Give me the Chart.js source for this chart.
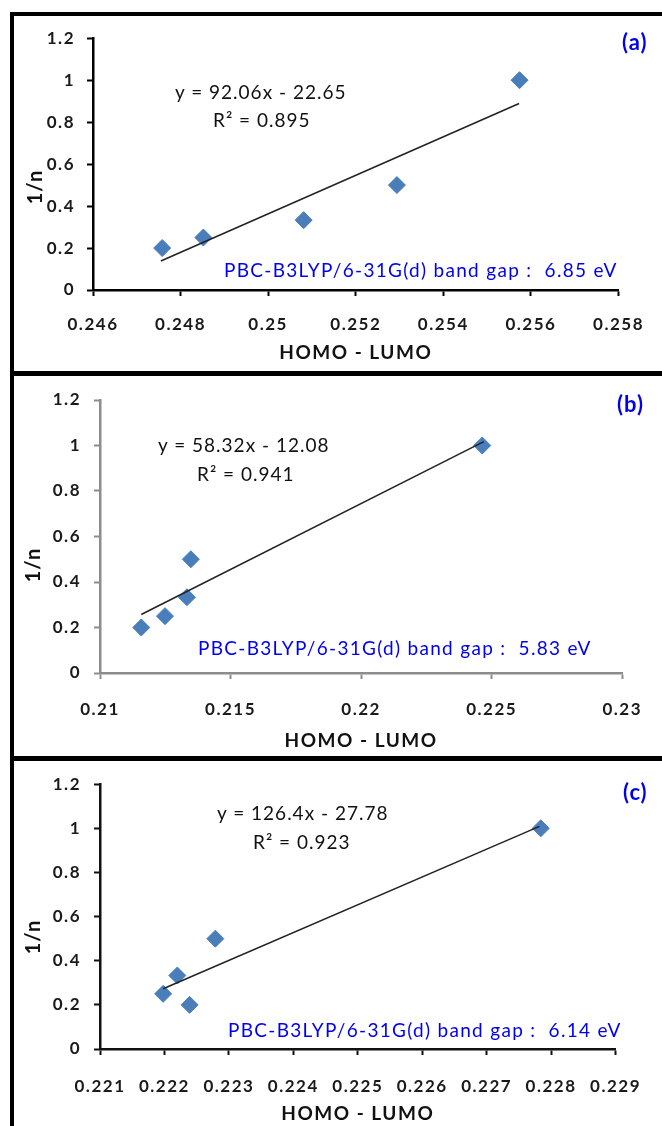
<!DOCTYPE html>
<html>
<head>
<meta charset="utf-8">
<script src="https://cdn.jsdelivr.net/npm/chart.js@4.4.1/dist/chart.umd.min.js"></script>
<style>
    body { margin: 0; background: #fff; }
    #page { position: relative; width: 662px; height: 1126px; overflow: hidden; font-family: Lato, "Open Sans", sans-serif; }
    canvas { position: absolute; left: 0; }
    .frame { position: absolute; background: #000; z-index: 2; }
    .note { position: absolute; white-space: pre; line-height: 24px; z-index: 3; }
    .eq { font-size: 19px; color: #111; letter-spacing: 1px; }
    .gap { font-size: 19px; color: #0000ee; letter-spacing: 1.3px; }
    .tag { font-size: 22px; font-weight: bold; color: #0000ee; letter-spacing: 1px; }
    .ytitle { position: absolute; font-size: 20px; font-weight: bold; color: #111; letter-spacing: 1px;
              transform: translate(-50%, -50%) rotate(-90deg); line-height: 22px; z-index: 3; }
</style>
</head>
<body>
<div id="page">
    <canvas id="chartA" width="662" height="355" style="top:16px"></canvas>
    <canvas id="chartB" width="662" height="380" style="top:376px"></canvas>
    <canvas id="chartC" width="662" height="365" style="top:761px"></canvas>

    <div class="frame" style="left:10px;top:12px;width:652px;height:4px"></div>
    <div class="frame" style="left:10px;top:371px;width:652px;height:5px"></div>
    <div class="frame" style="left:10px;top:756px;width:652px;height:5px"></div>
    <div class="frame" style="left:10px;top:12px;width:4px;height:1114px"></div>

    <div class="note eq" style="left:175px;top:80px">y = 92.06x - 22.65</div>
    <div class="note eq" style="left:213px;top:108px">R² = 0.895</div>
    <div class="note gap" style="left:224px;top:258px">PBC-B3LYP/6-31G(d) band gap :  6.85 eV</div>
    <div class="note tag" style="left:622px;top:30px">(a)</div>
    <div class="ytitle" style="left:34px;top:187px">1/n</div>

    <div class="note eq" style="left:158px;top:433px">y = 58.32x - 12.08</div>
    <div class="note eq" style="left:197px;top:462px">R² = 0.941</div>
    <div class="note gap" style="left:198px;top:636px">PBC-B3LYP/6-31G(d) band gap :  5.83 eV</div>
    <div class="note tag" style="left:617px;top:392px">(b)</div>
    <div class="ytitle" style="left:32px;top:565px">1/n</div>

    <div class="note eq" style="left:217px;top:801px">y = 126.4x - 27.78</div>
    <div class="note eq" style="left:253px;top:830px">R² = 0.923</div>
    <div class="note gap" style="left:228px;top:1018px">PBC-B3LYP/6-31G(d) band gap :  6.14 eV</div>
    <div class="note tag" style="left:623px;top:780px">(c)</div>
    <div class="ytitle" style="left:32px;top:937px">1/n</div>
</div>
<script>
// 1/n against HOMO-LUMO gap
const xA = [0.24758, 0.24852, 0.25081, 0.25294, 0.25574];
const yA = [0.2, 0.25, 0.333, 0.5, 1];
const trendXA = [0.24755, 0.25573];
const trendYA = [0.138, 0.889];

const xB = [0.21158, 0.21249, 0.21333, 0.21348, 0.22464];
const yB = [0.2, 0.25, 0.333, 0.5, 1];
const trendXB = [0.21158, 0.22470];
const trendYB = [0.257, 1.017];

const xC = [0.22198, 0.22220, 0.22239, 0.22279, 0.22784];
const yC = [0.25, 0.333, 0.2, 0.5, 1];
const trendXC = [0.22198, 0.22782];
const trendYC = [0.273, 1.009];

const yTicks = [0, 0.2, 0.4, 0.6, 0.8, 1, 1.2];
const yTickLabels = ['0', '0.2', '0.4', '0.6', '0.8', '1', '1.2'];
const xTicksA = [0.246, 0.248, 0.25, 0.252, 0.254, 0.256, 0.258];
const xTickLabelsA = ['0.246', '0.248', '0.25', '0.252', '0.254', '0.256', '0.258'];
const xTicksB = [0.21, 0.215, 0.22, 0.225, 0.23];
const xTickLabelsB = ['0.21', '0.215', '0.22', '0.225', '0.23'];
const xTicksC = [0.221, 0.222, 0.223, 0.224, 0.225, 0.226, 0.227, 0.228, 0.229];
const xTickLabelsC = ['0.221', '0.222', '0.223', '0.224', '0.225', '0.226', '0.227', '0.228', '0.229'];

const xTitle = 'HOMO - LUMO';

// wider text, the source fonts are stretched
const spacingPlugin = {
    id: 'spacing',
    beforeUpdate(chart) { chart.ctx.letterSpacing = '1.5px'; },
    beforeDraw(chart) { chart.ctx.letterSpacing = '1.5px'; }
};

function toPoints(xs, ys) {
    let pts = [];
    for (let i = 0; i < xs.length; i++) {
        pts.push({x: xs[i], y: ys[i]});
    }
    return pts;
}

function makePanel(id, p) {
    const ctx = document.getElementById(id).getContext('2d');
    return new Chart(ctx, {
        type: 'scatter',
        data: {
            datasets: [
                {
                    type: 'line',
                    data: toPoints(p.trendX, p.trendY),
                    borderColor: '#222',
                    borderWidth: 1.5,
                    pointRadius: 0,
                    fill: false,
                    order: 0
                },
                {
                    data: toPoints(p.xs, p.ys),
                    pointStyle: 'rectRot',
                    pointRadius: 8.5,
                    pointBackgroundColor: '#4a7ebb',
                    pointBorderColor: '#4a7ebb',
                    pointBorderWidth: 1,
                    order: 1
                }
            ]
        },
        options: {
            responsive: false,
            animation: false,
            events: [],
            layout: {padding: {left: 0, top: p.padTop, right: p.padRight, bottom: 0}},
            plugins: {legend: {display: false}, tooltip: {enabled: false}},
            scales: {
                x: {
                    type: 'linear',
                    min: p.xTicks[0],
                    max: p.xTicks[p.xTicks.length - 1],
                    afterBuildTicks: (s) => { s.ticks = p.xTicks.map(v => ({value: v})); },
                    afterFit: (s) => { s.height = p.xAxisHeight; },
                    border: {display: true, color: p.axisColor, width: 2.5},
                    grid: {display: true, drawOnChartArea: false, drawTicks: true, tickLength: 6, tickColor: p.axisColor, tickWidth: 2},
                    ticks: {
                        padding: p.xTickPad,
                        color: '#1a1a1a',
                        maxRotation: 0,
                        autoSkip: false,
                        font: {family: 'Lato', size: 17, weight: 'bold'},
                        callback: (v, i) => p.xLabels[i]
                    },
                    title: {
                        display: true,
                        text: xTitle,
                        color: '#111',
                        padding: {top: 0, bottom: p.titlePad},
                        font: {family: 'Lato', size: 19, weight: 'bold'}
                    }
                },
                y: {
                    min: 0,
                    max: 1.2,
                    afterBuildTicks: (s) => { s.ticks = yTicks.map(v => ({value: v})); },
                    afterFit: (s) => { s.width = p.yAxisWidth; },
                    border: {display: true, color: p.axisColor, width: 2.5},
                    grid: {display: true, drawOnChartArea: false, drawTicks: true, tickLength: 6, tickColor: p.axisColor, tickWidth: 2},
                    ticks: {
                        padding: p.yTickPad,
                        color: '#1a1a1a',
                        font: {family: 'Lato', size: 17, weight: 'bold'},
                        callback: (v, i) => yTickLabels[i]
                    }
                }
            }
        },
        plugins: [spacingPlugin]
    });
}

makePanel('chartA', {
    xs: xA, ys: yA, trendX: trendXA, trendY: trendYA,
    xTicks: xTicksA, xLabels: xTickLabelsA,
    padTop: 22, padRight: 33, xAxisHeight: 81, yAxisWidth: 93,
    xTickPad: 18, yTickPad: 12, titlePad: 7, axisColor: '#000'
});
makePanel('chartB', {
    xs: xB, ys: yB, trendX: trendXB, trendY: trendYB,
    xTicks: xTicksB, xLabels: xTickLabelsB,
    padTop: 24, padRight: 27, xAxisHeight: 83, yAxisWidth: 100,
    xTickPad: 20, yTickPad: 13, titlePad: 4, axisColor: '#8c8c8c'
});
makePanel('chartC', {
    xs: xC, ys: yC, trendX: trendXC, trendY: trendYC,
    xTicks: xTicksC, xLabels: xTickLabelsC,
    padTop: 20, padRight: 33, xAxisHeight: 77, yAxisWidth: 100,
    xTickPad: 21, yTickPad: 13, titlePad: 1, axisColor: '#111'
});
</script>
</body>
</html>
